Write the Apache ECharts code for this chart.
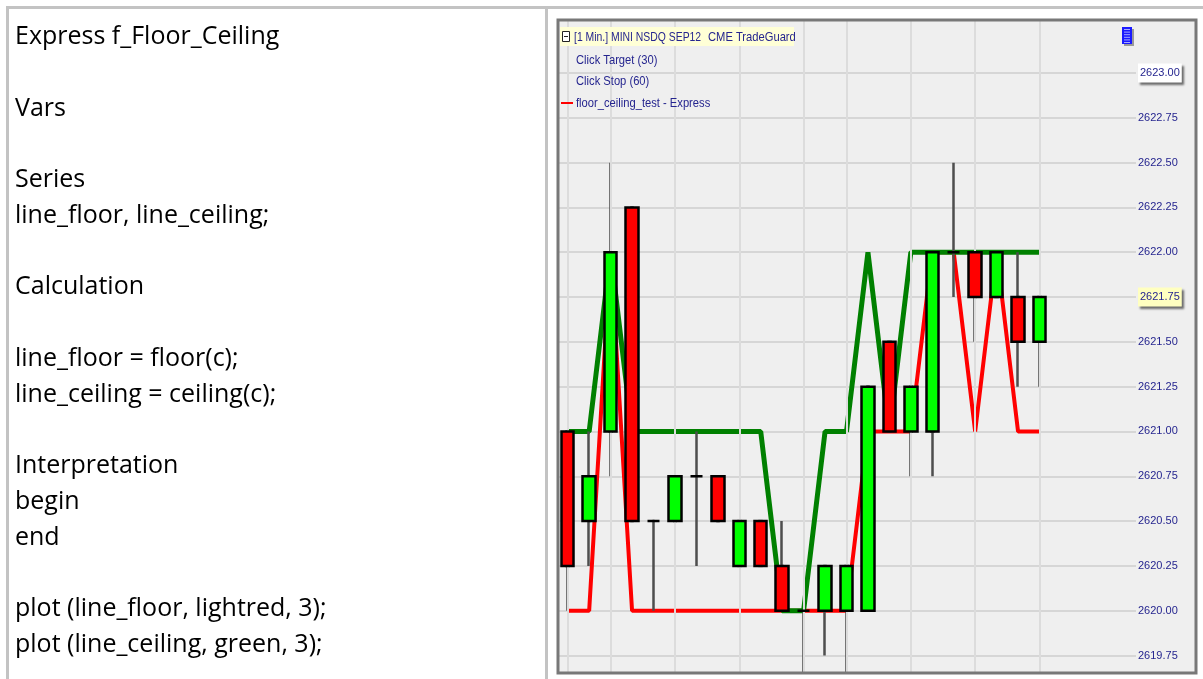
<!DOCTYPE html>
<html>
<head>
<meta charset="utf-8">
<title>f_Floor_Ceiling</title>
<script src="https://cdn.jsdelivr.net/npm/echarts/dist/echarts.min.js"></script>
<style>
  html, body { margin: 0; padding: 0; background: #fff; }
  #main { width: 1203px; height: 679px; }
</style>
</head>
<body>
<div id="main"></div>
<script>
// code shown in the left cell (blank strings are empty rows)
var codeLines = [
    'Express f_Floor_Ceiling', '',
    'Vars', '',
    'Series', 'line_floor, line_ceiling;', '',
    'Calculation', '',
    'line_floor = floor(c);', 'line_ceiling = ceiling(c);', '',
    'Interpretation', 'begin', 'end', '',
    'plot (line_floor, lightred, 3);', 'plot (line_ceiling, green, 3);'
];

// chart header texts
var headerTitle = '[1 Min.] MINI NSDQ SEP12';
var headerBroker = 'CME TradeGuard';
var legendLines = ['Click Target (30)', 'Click Stop (60)', 'floor_ceiling_test - Express'];

// 1 minute bars
var bars = ['1', '2', '3', '4', '5', '6', '7', '8', '9', '10', '11', '12',
    '13', '14', '15', '16', '17', '18', '19', '20', '21', '22', '23'];
var opens = [2621.00, 2620.50, 2621.00, 2622.25, 2620.50, 2620.50, 2620.75, 2620.75,
    2620.25, 2620.50, 2620.25, 2620.00, 2620.00, 2620.00, 2620.00, 2621.50,
    2621.00, 2621.00, 2622.00, 2622.00, 2621.75, 2621.75, 2621.50];
var closes = [2620.25, 2620.75, 2622.00, 2620.50, 2620.50, 2620.75, 2620.75, 2620.50,
    2620.50, 2620.25, 2620.00, 2620.00, 2620.25, 2620.25, 2621.25, 2621.00,
    2621.25, 2622.00, 2622.00, 2621.75, 2622.00, 2621.50, 2621.75];
var lows = [2620.00, 2620.25, 2620.75, 2620.50, 2620.00, 2620.50, 2620.25, 2620.50,
    2620.25, 2620.25, 2620.00, 2619.50, 2619.75, 2619.50, 2620.00, 2621.00,
    2620.75, 2620.75, 2621.75, 2621.50, 2621.75, 2621.25, 2621.25];
var highs = [2621.00, 2621.00, 2622.50, 2622.25, 2620.50, 2620.75, 2621.00, 2620.75,
    2620.50, 2620.50, 2620.50, 2620.00, 2620.25, 2620.25, 2621.25, 2621.50,
    2621.25, 2622.00, 2622.50, 2622.00, 2622.00, 2622.00, 2621.75];

// plotted indicator values
var lineFloor = [2620, 2620, 2622, 2620, 2620, 2620, 2620, 2620, 2620, 2620, 2620, 2620,
    2620, 2620, 2621, 2621, 2621, 2622, 2622, 2621, 2622, 2621, 2621];
var lineCeiling = [2621, 2621, 2622, 2621, 2621, 2621, 2621, 2621, 2621, 2621, 2620, 2620,
    2621, 2621, 2622, 2621, 2622, 2622, 2622, 2622, 2622, 2622, 2622];

// bars with a time gridline
var timeLines = [0, 2, 5, 8, 11, 13, 16, 19, 22];
// price labels drawn in a box
var boxedTicks = [[2623.00, 'w'], [2621.75, 'y']];

var emptySlots = ['', '', '', ''];   // free space right of the last bar
var categories = bars.concat(emptySlots);

var wickData = [], bodyData = [], gapFill = [];
for (var i = 0; i < bars.length; i++) {
    wickData.push([opens[i], closes[i], lows[i], highs[i]]);
    bodyData.push([opens[i], closes[i], Math.min(opens[i], closes[i]), Math.max(opens[i], closes[i])]);
    gapFill.push('-');
}

var navy = '#25258f';
var sans = '"Liberation Sans", Arial, sans-serif';

function smallText(t, x, y, sx) {
    return {
        type: 'text', z: 98, x: x, y: y, scaleX: sx,
        style: { text: t, fill: navy, fontSize: 13, fontFamily: sans,
            verticalAlign: 'middle', textVerticalAlign: 'middle' }
    };
}

var graphics = [];
// table borders
graphics.push({ type: 'rect', z: 90, shape: { x: 6, y: 6, width: 1197, height: 3 }, style: { fill: '#c3c3c3' } });
graphics.push({ type: 'rect', z: 90, shape: { x: 6, y: 6, width: 3, height: 673 }, style: { fill: '#c3c3c3' } });
graphics.push({ type: 'rect', z: 90, shape: { x: 545, y: 6, width: 3, height: 673 }, style: { fill: '#c3c3c3' } });
// code text
codeLines.forEach(function (t, k) {
    if (!t) return;
    graphics.push({
        type: 'text', z: 90, x: 15, y: 37 + k * 35.75,
        style: { text: t, fill: '#000', fontSize: 25, fontFamily: '"Open Sans", Lato, sans-serif',
            verticalAlign: 'middle', textVerticalAlign: 'middle' }
    });
});
// chart frame background
graphics.push({ type: 'rect', z: -10, shape: { x: 557, y: 19, width: 640, height: 654 }, style: { fill: '#efefef' } });
// cover below the frame
graphics.push({ type: 'rect', z: 95, shape: { x: 549, y: 674, width: 654, height: 10 }, style: { fill: '#fff' } });
// frame border
graphics.push({ type: 'rect', z: 96, shape: { x: 558, y: 20, width: 638, height: 653 },
    style: { fill: 'none', stroke: '#787878', lineWidth: 3 } });
// header band
graphics.push({ type: 'rect', z: 97, shape: { x: 560, y: 27, width: 234, height: 19 }, style: { fill: '#ffffd6' } });
graphics.push({ type: 'rect', z: 98, shape: { x: 562.5, y: 31.5, width: 7, height: 10 },
    style: { fill: '#fff', stroke: '#222', lineWidth: 1 } });
graphics.push({ type: 'line', z: 98, shape: { x1: 564, y1: 36.5, x2: 568, y2: 36.5 }, style: { stroke: '#222', lineWidth: 1 } });
graphics.push(smallText(headerTitle, 574, 37, 0.8));
graphics.push(smallText(headerBroker, 708, 37, 0.86));
legendLines.forEach(function (t, k) {
    graphics.push(smallText(t, 576, 60 + k * 21.5, 0.86));
});
graphics.push({ type: 'line', z: 98, shape: { x1: 561, y1: 103, x2: 573, y2: 103 }, style: { stroke: '#ff0000', lineWidth: 2 } });
// blue scale icon
graphics.push({ type: 'rect', z: 98, shape: { x: 1124, y: 29, width: 10, height: 17 }, style: { fill: '#9a9a9a' } });
graphics.push({ type: 'rect', z: 98, shape: { x: 1122, y: 27, width: 10, height: 17 }, style: { fill: '#1a1aff' } });
for (var s = 0; s < 6; s++) {
    graphics.push({ type: 'line', z: 99, shape: { x1: 1124, y1: 29.5 + s * 2.6, x2: 1130, y2: 29.5 + s * 2.6 },
        style: { stroke: '#a8a8ff', lineWidth: 1 } });
}

var chart = echarts.init(document.getElementById('main'));
chart.setOption({
    animation: false,
    backgroundColor: '#fff',
    graphic: { elements: graphics },
    grid: [
        { left: 557, right: 67, top: 30, bottom: 23.5 },   // prices
        { left: 557, right: 67, top: 21, bottom: 6 }       // time gridlines, full frame height
    ],
    xAxis: [{
        type: 'category', gridIndex: 0, data: categories, boundaryGap: true,
        axisLine: { show: false }, axisTick: { show: false }, axisLabel: { show: false }, splitLine: { show: false }
    }, {
        type: 'category', gridIndex: 1, data: categories, boundaryGap: true, show: false
    }],
    yAxis: [{
        type: 'value',
        gridIndex: 0,
        position: 'right',
        min: 2619.75,
        max: 2623.24,
        interval: 0.25,
        axisLine: { show: false },
        axisTick: { show: false },
        splitLine: { showMaxLine: false, lineStyle: { color: '#d6d6d6', width: 2 } },
        axisLabel: {
            margin: 2,
            color: navy,
            fontSize: 11,
            fontFamily: sans,
            formatter: function (v) {
                if (Math.abs(v * 4 - Math.round(v * 4)) > 1e-6) return '';
                var txt = v.toFixed(2);
                for (var b = 0; b < boxedTicks.length; b++) {
                    if (Math.abs(v - boxedTicks[b][0]) < 1e-6) return '{' + boxedTicks[b][1] + '|' + txt + '}';
                }
                return txt;
            },
            rich: {
                w: { color: navy, fontSize: 11, fontFamily: sans, backgroundColor: '#ffffff',
                    padding: [4, 2, 4, 2], shadowColor: 'rgba(0,0,0,0.55)', shadowBlur: 2, shadowOffsetX: 2, shadowOffsetY: 2 },
                y: { color: navy, fontSize: 11, fontFamily: sans, backgroundColor: '#ffffc0',
                    padding: [4, 2, 4, 2], shadowColor: 'rgba(0,0,0,0.55)', shadowBlur: 2, shadowOffsetX: 2, shadowOffsetY: 2 }
            }
        }
    }, {
        type: 'value', gridIndex: 1, min: 0, max: 1, show: false
    }],
    series: [{
        type: 'line',
        name: 'time grid',
        xAxisIndex: 1,
        yAxisIndex: 1,
        z: 1,
        data: gapFill,
        symbol: 'none',
        silent: true,
        markLine: {
            silent: true,
            symbol: ['none', 'none'],
            label: { show: false },
            lineStyle: { color: '#dcdcdc', width: 2, type: 'solid' },
            data: timeLines.map(function (k) { return { xAxis: k }; })
        }
    }, {
        type: 'line',
        name: 'line_floor',
        z: 2,
        data: lineFloor,
        symbol: 'none',
        lineStyle: { color: '#ff0000', width: 4 }
    }, {
        type: 'line',
        name: 'line_ceiling',
        z: 3,
        data: lineCeiling,
        symbol: 'none',
        lineStyle: { color: '#008000', width: 5 }
    }, {
        type: 'candlestick',
        name: 'wicks',
        z: 4,
        clip: false,
        barWidth: 2,
        data: wickData,
        itemStyle: {
            color: '#4e4e4e', color0: '#4e4e4e',
            borderColor: '#4e4e4e', borderColor0: '#4e4e4e', borderColorDoji: '#4e4e4e',
            borderWidth: 2.5
        }
    }, {
        type: 'candlestick',
        name: 'bodies',
        z: 5,
        clip: false,
        barWidth: 13,
        data: bodyData,
        itemStyle: {
            color: '#00ff00', color0: '#ff0000',
            borderColor: '#000', borderColor0: '#000', borderColorDoji: '#000',
            borderWidth: 2.5
        }
    }]
});
</script>
</body>
</html>
